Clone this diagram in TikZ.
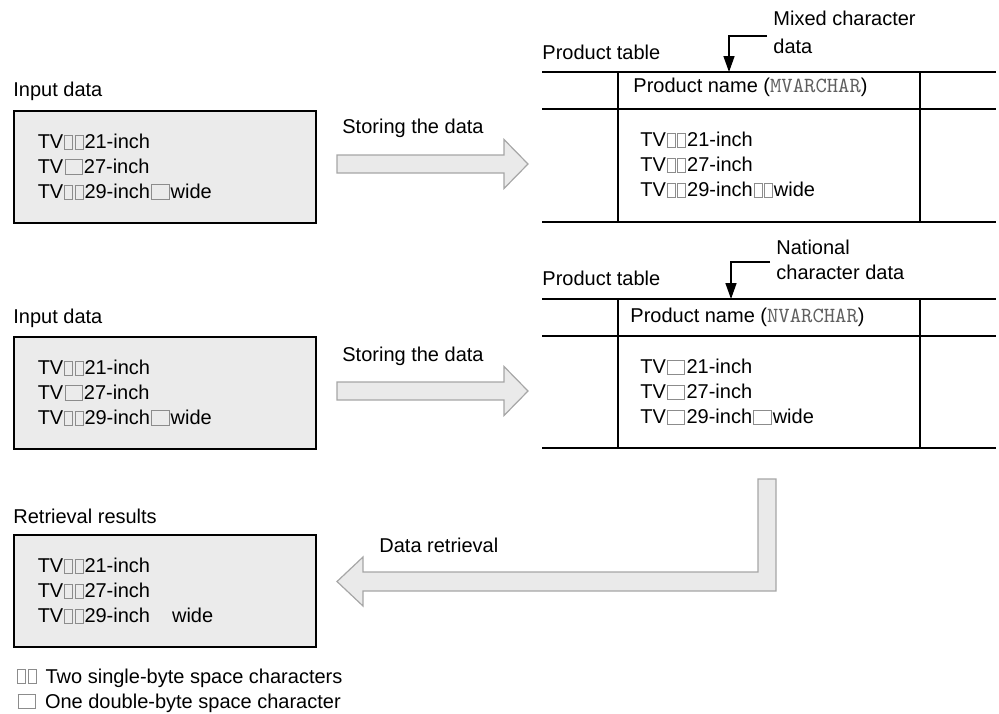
\documentclass[tikz,border=0pt]{standalone}
\usepackage{fontspec}
\setmainfont{Liberation Sans}
\usepackage{xcolor}
\usetikzlibrary{arrows.meta}
\tikzset{>={Triangle[length=8pt,width=5.5pt]}}

\definecolor{boxfill}{HTML}{EBEBEB}
\definecolor{arrowfill}{HTML}{EAEAEA}
\definecolor{arrowline}{HTML}{A6A6A6}
\definecolor{spacegray}{HTML}{8C8C8C}
\definecolor{typegray}{HTML}{5E5E5E}

\tikzset{
  databox/.style={draw, fill=boxfill, line width=0.75pt, anchor=north west,
    minimum height=56pt, text width=127pt, inner xsep=12pt, align=left},
  lbl/.style={inner sep=0pt, anchor=west},
  rowtext/.style={inner sep=0pt, anchor=west, align=left},
  tableline/.style={line width=0.8pt},
  fatarrow/.style={draw=arrowline, fill=arrowfill, line width=0.6pt},
  tagarrow/.style={->, line width=0.75pt}
}

% visible space marks
\newcommand{\sbsp}{{\color{spacegray}\setlength{\fboxsep}{0pt}\setlength{\fboxrule}{0.45pt}%
  \hspace{0.4pt}\fbox{\rule{0pt}{6.4pt}\hspace{3.6pt}}\hspace{0.4pt}}}
\newcommand{\dbsp}{{\color{spacegray}\setlength{\fboxsep}{0pt}\setlength{\fboxrule}{0.45pt}%
  \hspace{0.6pt}\fbox{\rule{0pt}{6.6pt}\hspace{8.2pt}}\hspace{0.6pt}}}
\newcommand{\sqltype}[1]{{\fontsize{10.8}{12.5}\ttfamily\color{typegray}#1}}
% right-pointing block arrow centred on a given y
\newcommand{\storearrow}[1]{%
  \draw[fatarrow] (337,#1-9) -- (504,#1-9) -- (504,#1-24.5) -- (528,#1)
    -- (504,#1+24.5) -- (504,#1+9) -- (337,#1+9) -- cycle;}

\begin{document}
\begin{tikzpicture}[x=0.5pt, y=-0.5pt, font=\fontsize{10}{12.5}\selectfont]
\useasboundingbox (0,0) rectangle (999,713);

% input data, first case
\node[lbl] (inlbl1) at (13,91) {Input data};
\node[databox] (in1) at (13,110)
{TV\sbsp\sbsp 21-inch\\ TV\dbsp 27-inch\\ TV\sbsp\sbsp 29-inch\dbsp wide};
\node[lbl] (store1) at (342,128) {Storing the data};
\storearrow{164}

% product table with mixed character data
\node[lbl] (tbl1) at (542,52) {Product table};
\draw[tableline] (542,72) -- (996,72) (542,109) -- (996,109) (542,222) -- (996,222)
  (618,72) -- (618,222) (920,72) -- (920,222);
\node[lbl] (head1) at (633,87) {Product name (\sqltype{MVARCHAR})};
\node[rowtext] (rows1) at (640,165)
{TV\sbsp\sbsp 21-inch\\ TV\sbsp\sbsp 27-inch\\ TV\sbsp\sbsp 29-inch\sbsp\sbsp wide};
\node[lbl, align=left, inner xsep=3pt, font=\fontsize{10}{14}\selectfont] (mixed)
  at (767,32.5) {Mixed character\\data};
\coordinate (mcol) at (729,72);
\draw[tagarrow] ([yshift=-1.75pt]mixed.west) -| (mcol);

% input data, second case
\node[lbl] (inlbl2) at (13,318) {Input data};
\node[databox] (in2) at (13,336)
{TV\sbsp\sbsp 21-inch\\ TV\dbsp 27-inch\\ TV\sbsp\sbsp 29-inch\dbsp wide};
\node[lbl] (store2) at (342,356) {Storing the data};
\storearrow{391}

% product table with national character data
\node[lbl] (tbl2) at (542,278) {Product table};
\draw[tableline] (542,299) -- (996,299) (542,336) -- (996,336) (542,448) -- (996,448)
  (618,299) -- (618,448) (920,299) -- (920,448);
\node[lbl] (head2) at (630,317) {Product name (\sqltype{NVARCHAR})};
\node[rowtext] (rows2) at (640,392)
{TV\dbsp 21-inch\\ TV\dbsp 27-inch\\ TV\dbsp 29-inch\dbsp wide};
\node[lbl, align=left, inner xsep=3pt] (natl) at (770,259.5) {National\\character data};
\coordinate (ncol) at (731,299);
\draw[tagarrow] ([yshift=-1.25pt]natl.west) -| (ncol);

% retrieval
\draw[fatarrow] (758,479) -- (776,479) -- (776,591) -- (363,591) -- (363,606)
  -- (337,581.5) -- (363,557) -- (363,572) -- (758,572) -- cycle;
\node[lbl] (fetch) at (379,545) {Data retrieval};
\node[lbl] (outlbl) at (13,516) {Retrieval results};
\node[databox] (out) at (13,534)
{TV\sbsp\sbsp 21-inch\\ TV\sbsp\sbsp 27-inch\\ TV\sbsp\sbsp 29-inch\hspace{11pt}wide};

% key
\node[lbl] (key1) at (16,678) {\sbsp\sbsp\hspace{4pt}Two single-byte space characters};
\node[lbl] (key2) at (16,703) {\dbsp\hspace{4pt}One double-byte space character};
\end{tikzpicture}
\end{document}
